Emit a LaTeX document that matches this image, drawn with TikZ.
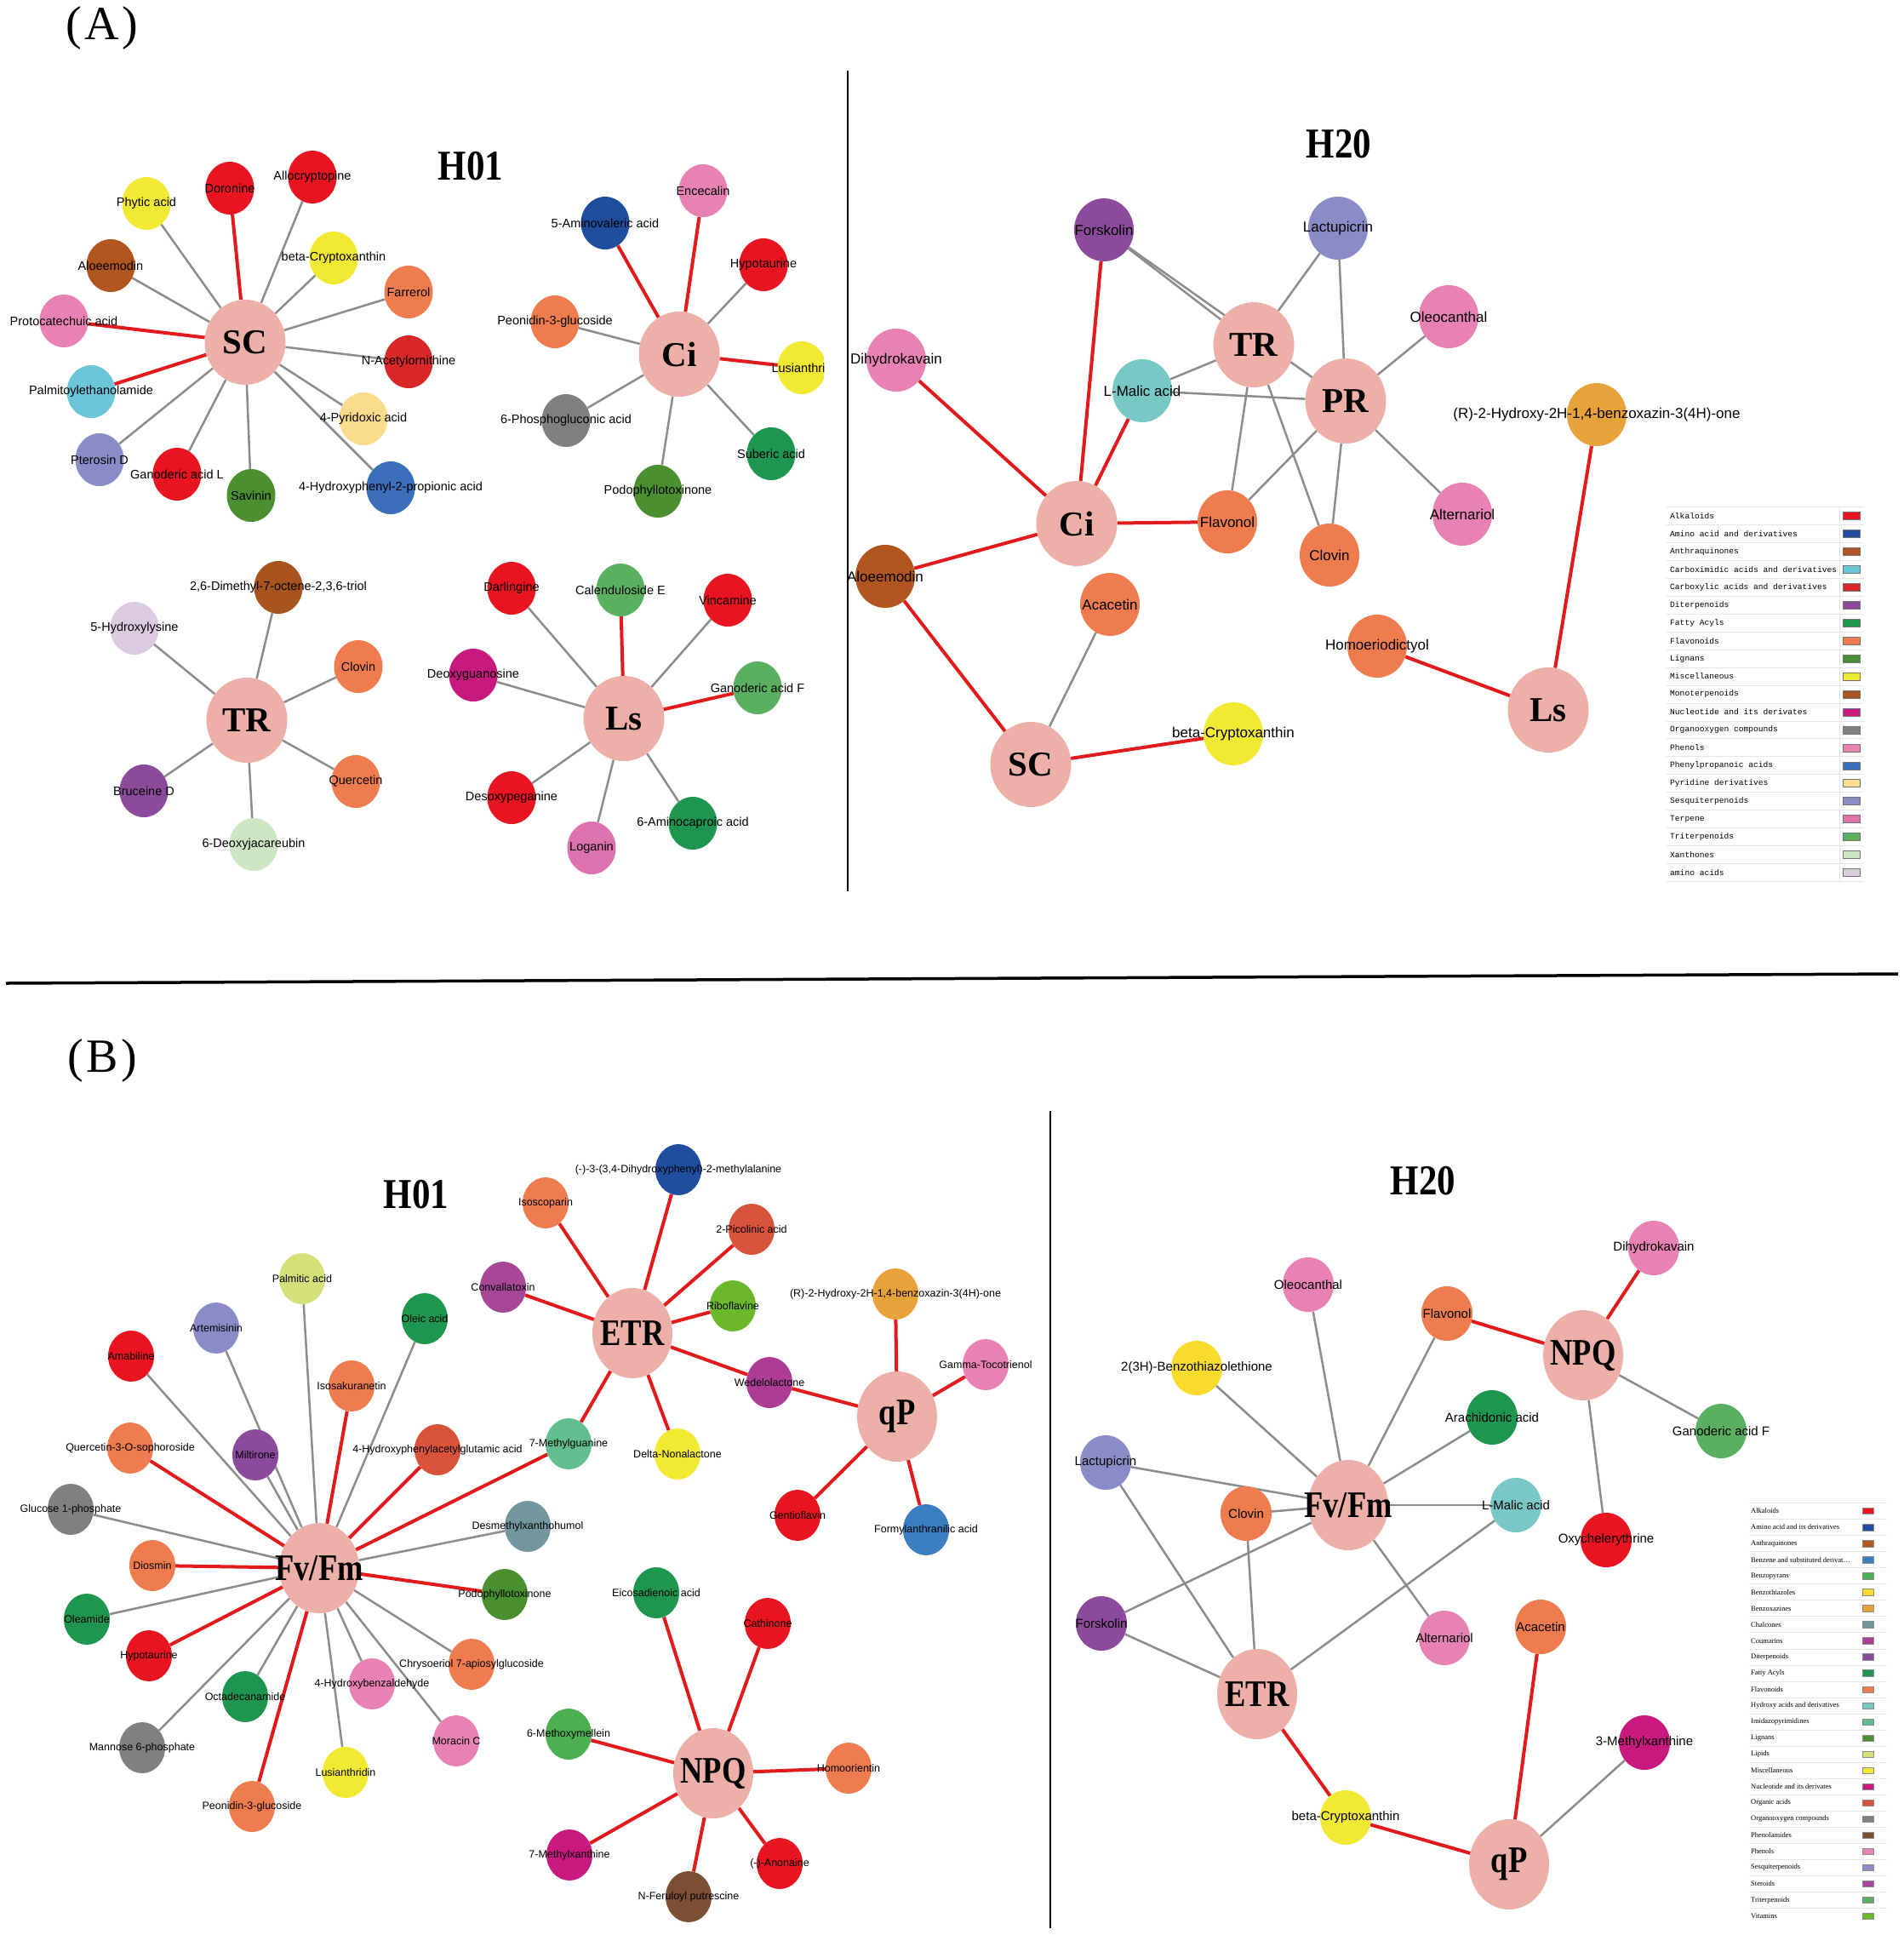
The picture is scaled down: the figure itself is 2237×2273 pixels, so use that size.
\documentclass[tikz,border=0pt]{standalone}
\usepackage{fontspec}
\usepackage{graphicx}
\setmainfont{Liberation Serif}
\newfontfamily\sansf{Liberation Sans}
\newfontfamily\monof{Liberation Mono}
\usetikzlibrary{shapes.geometric}
\pgfdeclarelayer{bg}
\pgfsetlayers{bg,main}
\definecolor{hubc}{HTML}{EDB0A8}
\definecolor{edgered}{HTML}{E31A1C}
\definecolor{edgegray}{HTML}{8C8C8C}
\definecolor{cAlk}{HTML}{E8141F}
\definecolor{cAmi}{HTML}{1F4E9E}
\definecolor{cAnt}{HTML}{B0561E}
\definecolor{cCim}{HTML}{6CC6DA}
\definecolor{cCar}{HTML}{D8282A}
\definecolor{cDit}{HTML}{8B4A9C}
\definecolor{cFat}{HTML}{1E9650}
\definecolor{cFla}{HTML}{EE7C4E}
\definecolor{cLig}{HTML}{4A9030}
\definecolor{cMis}{HTML}{F2EA32}
\definecolor{cMon}{HTML}{A8541F}
\definecolor{cNuc}{HTML}{C81A7E}
\definecolor{cOrg}{HTML}{808080}
\definecolor{cPhe}{HTML}{E882B4}
\definecolor{cPpa}{HTML}{3C6FBA}
\definecolor{cPyr}{HTML}{FBDB8C}
\definecolor{cSes}{HTML}{8A8CC8}
\definecolor{cTer}{HTML}{DC72AE}
\definecolor{cTri}{HTML}{5BAF60}
\definecolor{cXan}{HTML}{CDE6C3}
\definecolor{cAma}{HTML}{DCCAE0}
\definecolor{cBen}{HTML}{3A7EC0}
\definecolor{cBpy}{HTML}{4CAF50}
\definecolor{cBth}{HTML}{F9DC2B}
\definecolor{cBox}{HTML}{E8A23A}
\definecolor{cCha}{HTML}{72979E}
\definecolor{cCou}{HTML}{AC3C96}
\definecolor{cHyd}{HTML}{78C8C6}
\definecolor{cImi}{HTML}{62BE8C}
\definecolor{cLip}{HTML}{D4E07A}
\definecolor{cOac}{HTML}{D8533A}
\definecolor{cPhl}{HTML}{7C4F35}
\definecolor{cSte}{HTML}{A64797}
\definecolor{cVit}{HTML}{6CB82C}
\tikzset{
  nd/.style={ellipse, inner sep=0pt, draw=none, text=black},
  smA/.style={nd, minimum width=57pt, minimum height=62pt, font=\sansf\fontsize{14.5}{16}\selectfont},
  smHA/.style={nd, minimum width=70pt, minimum height=74pt, font=\sansf\fontsize{17}{19}\selectfont},
  smB/.style={nd, minimum width=54pt, minimum height=60pt, font=\sansf\fontsize{12.5}{14}\selectfont},
  smHB/.style={nd, minimum width=60pt, minimum height=64pt, font=\sansf\fontsize{15}{17}\selectfont},
  hubA/.style={nd, minimum width=95pt, minimum height=100pt, font=\bfseries\fontsize{41}{44}\selectfont},
  hubB/.style={nd, minimum width=94pt, minimum height=106pt, font=\bfseries\fontsize{44}{46}\selectfont},
  ttl/.style={font=\bfseries\fontsize{50}{52}\selectfont, inner sep=0pt},
  pnl/.style={font=\fontsize{56}{58}\selectfont, inner sep=0pt},
  ge/.style={draw=edgegray, line width=2.5pt},
  re/.style={draw=edgered, line width=4pt},
  legA/.style={anchor=west, inner sep=0pt, font=\monof\fontsize{9.6}{10}\selectfont},
  legB/.style={anchor=west, inner sep=0pt, font=\fontsize{8.5}{9}\selectfont},
}
\newcommand{\N}[5]{\node[#1,fill=#2] (#3) at (#4) {\makebox[0pt]{#5}};}
\newcommand{\hs}[1]{\scalebox{0.83}[1]{#1}}
\begin{document}
\begin{tikzpicture}[x=1pt,y=-1pt]
\useasboundingbox (0,0) rectangle (2237,2273);
% panel labels and dividers
\node[pnl] (pA) at (120,33) {(\hspace{3.5pt}A\hspace{3.5pt})};
\node[pnl] (pB) at (120,1246) {(\hspace{3.5pt}B\hspace{3.5pt})};
\coordinate (dA1) at (996,83); \coordinate (dA2) at (996,1047);
\coordinate (dH1) at (7,1155); \coordinate (dH2) at (2230,1144);
\coordinate (dB1) at (1234,1305); \coordinate (dB2) at (1234,2265);
\draw[line width=1.8pt] (dA1) -- (dA2);
\draw[line width=3.5pt] (dH1) -- (dH2);
\draw[line width=1.8pt] (dB1) -- (dB2);
% titles
\node[ttl] (tA1) at (553,195) {\scalebox{0.86}[1]{H01}};
\node[ttl] (tA2) at (1573,169) {\scalebox{0.86}[1]{H20}};
\node[ttl] (tB1) at (489,1403) {\scalebox{0.86}[1]{H01}};
\node[ttl] (tB2) at (1672,1387) {\scalebox{0.86}[1]{H20}};

% ===== A H01 : SC =====
\N{hubA}{hubc}{aSC}{288,402}{SC}
\N{smA}{cMis}{aPhy}{172,239}{Phytic acid}
\N{smA}{cAlk}{aDor}{270,221}{Doronine}
\N{smA}{cAlk}{aAll}{367,208}{Allocryptopine}
\N{smA}{cMis}{aBcr}{392,303}{beta-Cryptoxanthin}
\N{smA}{cAnt}{aAlo}{130,312}{Aloeemodin}
\N{smA}{cFla}{aFar}{480,343}{Farrerol}
\N{smA}{cPhe}{aPro}{75,377}{Protocatechuic acid}
\N{smA}{cCar}{aNac}{480,425}{N-Acetylornithine}
\N{smA}{cCim}{aPal}{107,460}{Palmitoylethanolamide}
\N{smA}{cPyr}{aPyr}{427,492}{4-Pyridoxic acid}
\N{smA}{cSes}{aPte}{117,540}{Pterosin D}
\N{smA}{cAlk}{aGaL}{208,557}{Ganoderic acid L}
\N{smA}{cLig}{aSav}{295,582}{Savinin}
\N{smA}{cPpa}{aHpp}{459,573}{4-Hydroxyphenyl-2-propionic acid}
% ===== A H01 : Ci =====
\N{hubA}{hubc}{aCi}{798,416}{Ci}
\N{smA}{cAmi}{aAmv}{711,262}{5-Aminovaleric acid}
\N{smA}{cPhe}{aEnc}{826,224}{Encecalin}
\N{smA}{cAlk}{aHyp}{897,311}{Hypotaurine}
\N{smA}{cFla}{aPeo}{652,378}{Peonidin-3-glucoside}
\begin{scope}
\clip (880,380) rectangle (968,490);
\N{smA}{cMis}{aLus}{942,432}{Lusianthrin}
\end{scope}
\N{smA}{cFat}{aSub}{906,533}{Suberic acid}
\N{smA}{cOrg}{aPgl}{665,494}{6-Phosphogluconic acid}
\N{smA}{cLig}{aPod}{773,577}{Podophyllotoxinone}
% ===== A H01 : TR =====
\N{hubA}{hubc}{aTR}{290,846}{TR}
\N{smA}{cMon}{aDmo}{327,690}{2,6-Dimethyl-7-octene-2,3,6-triol}
\N{smA}{cAma}{aHly}{158,738}{5-Hydroxylysine}
\N{smA}{cFla}{aClo}{421,783}{Clovin}
\N{smA}{cDit}{aBru}{169,929}{Bruceine D}
\N{smA}{cFla}{aQue}{418,918}{Quercetin}
\N{smA}{cXan}{aDjc}{298,992}{6-Deoxyjacareubin}
% ===== A H01 : Ls =====
\N{hubA}{hubc}{aLs}{733,844}{Ls}
\N{smA}{cAlk}{aDar}{601,691}{Darlingine}
\N{smA}{cTri}{aCal}{729,693}{Calenduloside E}
\N{smA}{cAlk}{aVin}{855,705}{Vincamine}
\N{smA}{cNuc}{aDgu}{556,793}{Deoxyguanosine}
\N{smA}{cTri}{aGaF}{890,808}{Ganoderic acid F}
\N{smA}{cAlk}{aDes}{601,937}{Desoxypeganine}
\N{smA}{cFat}{aAca}{814,967}{6-Aminocaproic acid}
\N{smA}{cTer}{aLog}{695,996}{Loganin}

% ===== A H20 =====
\N{smHA}{cDit}{hFor}{1297,270}{Forskolin}
\N{smHA}{cSes}{hLac}{1572,268}{Lactupicrin}
\N{smHA}{cPhe}{hOle}{1702,372}{Oleocanthal}
\N{hubA}{hubc}{hTR}{1473,405}{TR}
\N{smHA}{cPhe}{hDih}{1053,423}{Dihydrokavain}
\N{smHA}{cHyd}{hMal}{1342,459}{L-Malic acid}
\N{hubA}{hubc}{hPR}{1581,471}{PR}
\N{smHA}{cBox}{hRhy}{1876,487}{(R)-2-Hydroxy-2H-1,4-benzoxazin-3(4H)-one}
\N{hubA}{hubc}{hCi}{1265,615}{Ci}
\N{smHA}{cFla}{hFlv}{1442,613}{Flavonol}
\N{smHA}{cPhe}{hAlt}{1718,604}{Alternariol}
\N{smHA}{cFla}{hClo}{1562,652}{Clovin}
\N{smHA}{cAnt}{hAlo}{1040,677}{Aloeemodin}
\N{smHA}{cFla}{hAca}{1304,710}{Acacetin}
\N{smHA}{cFla}{hHom}{1618,759}{Homoeriodictyol}
\N{hubA}{hubc}{hSC}{1211,898}{SC}
\N{smHA}{cMis}{hBcr}{1449,862}{beta-Cryptoxanthin}
\N{hubA}{hubc}{hLs}{1819,834}{Ls}

% ===== B H01 =====
\N{hubB}{hubc}{bFv}{375,1842}{\hs{Fv/Fm}}
\N{hubB}{hubc}{bETR}{743,1566}{\hs{ETR}}
\N{hubB}{hubc}{bqP}{1054,1664}{\hs{qP}}
\N{hubB}{hubc}{bNPQ}{838,2083}{\hs{NPQ}}
\N{smB}{cFla}{bIsc}{641,1413}{Isoscoparin}
\N{smB}{cAmi}{bDhp}{797,1374}{(-)-3-(3,4-Dihydroxyphenyl)-2-methylalanine}
\N{smB}{cOac}{bPic}{883,1444}{2-Picolinic acid}
\N{smB}{cSte}{bCon}{591,1512}{Convallatoxin}
\N{smB}{cVit}{bRib}{861,1534}{Riboflavine}
\N{smB}{cBox}{bRhy}{1052,1520}{(R)-2-Hydroxy-2H-1,4-benzoxazin-3(4H)-one}
\N{smB}{cPhe}{bGam}{1158,1603}{Gamma-Tocotrienol}
\N{smB}{cCou}{bWed}{904,1624}{Wedelolactone}
\N{smB}{cImi}{bMgu}{668,1696}{7-Methylguanine}
\N{smB}{cMis}{bDel}{796,1708}{Delta-Nonalactone}
\N{smB}{cAlk}{bGen}{937,1780}{Gentioflavin}
\N{smB}{cBen}{bFor}{1088,1797}{Formylanthranilic acid}
\N{smB}{cLip}{bPal}{355,1502}{Palmitic acid}
\N{smB}{cSes}{bArt}{254,1560}{Artemisinin}
\N{smB}{cFat}{bOle}{499,1549}{Oleic acid}
\N{smB}{cAlk}{bAma}{154,1593}{Amabiline}
\N{smB}{cFla}{bIss}{413,1628}{Isosakuranetin}
\N{smB}{cFla}{bQso}{153,1701}{Quercetin-3-O-sophoroside}
\N{smB}{cDit}{bMil}{300,1709}{Miltirone}
\N{smB}{cOac}{bHpg}{514,1703}{4-Hydroxyphenylacetylglutamic acid}
\N{smB}{cOrg}{bGlu}{83,1773}{Glucose 1-phosphate}
\N{smB}{cCha}{bDxa}{620,1793}{Desmethylxanthohumol}
\N{smB}{cFla}{bDio}{179,1839}{Diosmin}
\N{smB}{cLig}{bPod}{593,1873}{Podophyllotoxinone}
\N{smB}{cFat}{bOlm}{102,1902}{Oleamide}
\N{smB}{cAlk}{bHyp}{175,1945}{Hypotaurine}
\N{smB}{cFat}{bOct}{288,1993}{Octadecanamide}
\N{smB}{cPhe}{bHba}{437,1978}{4-Hydroxybenzaldehyde}
\N{smB}{cFla}{bChr}{554,1955}{Chrysoeriol 7-apiosylglucoside}
\N{smB}{cOrg}{bMan}{167,2053}{Mannose 6-phosphate}
\N{smB}{cPhe}{bMor}{536,2045}{Moracin C}
\N{smB}{cMis}{bLus}{406,2082}{Lusianthridin}
\N{smB}{cFla}{bPeo}{296,2122}{Peonidin-3-glucoside}
\N{smB}{cFat}{bEic}{771,1871}{Eicosadienoic acid}
\N{smB}{cAlk}{bCat}{902,1907}{Cathinone}
\N{smB}{cBpy}{bMme}{668,2037}{6-Methoxymellein}
\N{smB}{cFla}{bHom}{997,2077}{Homoorientin}
\N{smB}{cNuc}{bMxa}{669,2179}{7-Methylxanthine}
\N{smB}{cAlk}{bAno}{916,2189}{(-)-Anonaine}
\N{smB}{cPhl}{bFer}{809,2228}{N-Feruloyl putrescine}

% ===== B H20 =====
\N{hubB}{hubc}{cFv}{1584,1768}{\hs{Fv/Fm}}
\N{hubB}{hubc}{cNPQ}{1860,1592}{\hs{NPQ}}
\N{hubB}{hubc}{cETR}{1477,1990}{\hs{ETR}}
\N{hubB}{hubc}{cqP}{1773,2190}{\hs{qP}}
\N{smHB}{cPhe}{cDih}{1943,1466}{Dihydrokavain}
\N{smHB}{cPhe}{cOle}{1537,1509}{Oleocanthal}
\N{smHB}{cFla}{cFlv}{1700,1543}{Flavonol}
\N{smHB}{cBth}{cBzt}{1406,1607}{2(3H)-Benzothiazolethione}
\N{smHB}{cFat}{cAra}{1753,1665}{Arachidonic acid}
\N{smHB}{cTri}{cGaF}{2022,1681}{Ganoderic acid F}
\N{smHB}{cSes}{cLac}{1299,1718}{Lactupicrin}
\N{smHB}{cFla}{cClo}{1464,1778}{Clovin}
\N{smHB}{cHyd}{cMal}{1781,1768}{L-Malic acid}
\N{smHB}{cAlk}{cOxy}{1887,1809}{Oxychelerythrine}
\N{smHB}{cDit}{cFor}{1294,1907}{Forskolin}
\N{smHB}{cPhe}{cAlt}{1697,1924}{Alternariol}
\N{smHB}{cFla}{cAca}{1810,1911}{Acacetin}
\N{smHB}{cNuc}{cMxa}{1932,2047}{3-Methylxanthine}
\N{smHB}{cMis}{cBcr}{1581,2135}{beta-Cryptoxanthin}

% ===== legends =====
\foreach \t/\c [count=\i from 0] in {Alkaloids/cAlk, Amino acid and derivatives/cAmi, Anthraquinones/cAnt, Carboximidic acids and derivatives/cCim, Carboxylic acids and derivatives/cCar, Diterpenoids/cDit, Fatty Acyls/cFat, Flavonoids/cFla, Lignans/cLig, Miscellaneous/cMis, Monoterpenoids/cMon, Nucleotide and its derivates/cNuc, Organooxygen compounds/cOrg, Phenols/cPhe, Phenylpropanoic acids/cPpa, Pyridine derivatives/cPyr, Sesquiterpenoids/cSes, Terpene/cTer, Triterpenoids/cTri, Xanthones/cXan, amino acids/cAma}{
  \pgfmathsetmacro\yy{606+20.95*\i}
  \node[legA] (la\i) at (1962,\yy) {\t};
  \draw[fill=\c, draw=black!55, line width=0.6pt] (2165,\yy-4.5) rectangle (2185,\yy+4.5);
  \draw[black!10, line width=0.8pt] (1958,\yy-10.5) -- (2190,\yy-10.5);
}
\draw[black!10, line width=0.8pt] (1958,1035.5) -- (2190,1035.5);
\draw[black!10, line width=0.8pt] (2161,595) -- (2161,1036);
\foreach \t/\c [count=\i from 0] in {Alkaloids/cAlk, Amino acid and its derivatives/cAmi, Anthraquinones/cAnt, {Benzene and substituted derivat\ldots}/cBen, Benzopyrans/cBpy, Benzothiazoles/cBth, Benzoxazines/cBox, Chalcones/cCha, Coumarins/cCou, Diterpenoids/cDit, Fatty Acyls/cFat, Flavonoids/cFla, Hydroxy acids and derivatives/cHyd, Imidazopyrimidines/cImi, Lignans/cLig, Lipids/cLip, Miscellaneous/cMis, Nucleotide and its derivates/cNuc, Organic acids/cOac, Organooxygen compounds/cOrg, Phenolamides/cPhl, Phenols/cPhe, Sesquiterpenoids/cSes, Steroids/cSte, Triterpenoids/cTri, Vitamins/cVit}{
  \pgfmathsetmacro\yy{1775+19.04*\i}
  \node[legB] (lb\i) at (2057,\yy) {\t};
  \draw[fill=\c, draw=black!45, line width=0.5pt] (2188,\yy-3.7) rectangle (2201,\yy+3.7);
  \draw[black!10, line width=0.7pt] (2055,\yy-9.5) -- (2217,\yy-9.5);
}

% ===== edges =====
\begin{pgfonlayer}{bg}
\fill[white] (0,0) rectangle (2237,2273);
% A H01 SC
\foreach \n in {aPhy,aAll,aBcr,aAlo,aFar,aNac,aPyr,aPte,aGaL,aSav,aHpp} \draw[ge] (aSC) -- (\n);
\foreach \n in {aDor,aPro,aPal} \draw[re] (aSC) -- (\n);
% A H01 Ci
\foreach \n in {aHyp,aPeo,aSub,aPgl,aPod} \draw[ge] (aCi) -- (\n);
\foreach \n in {aAmv,aEnc} \draw[re] (aCi) -- (\n);
\draw[re] (aCi) -- (aLus.center);
% A H01 TR
\foreach \n in {aDmo,aHly,aClo,aBru,aQue,aDjc} \draw[ge] (aTR) -- (\n);
% A H01 Ls
\foreach \n in {aDar,aVin,aDgu,aDes,aAca,aLog} \draw[ge] (aLs) -- (\n);
\foreach \n in {aCal,aGaF} \draw[re] (aLs) -- (\n);
% A H20
\draw[ge] (hFor) -- (hTR);
\draw[ge] (hFor.center) -- (hPR.center);
\draw[ge] (hLac) -- (hTR);
\draw[ge] (hLac) -- (hPR);
\draw[ge] (hOle) -- (hPR);
\draw[ge] (hMal) -- (hTR);
\draw[ge] (hMal) -- (hPR);
\draw[ge] (hTR) -- (hFlv);
\draw[ge] (hTR) -- (hClo);
\draw[ge] (hPR) -- (hFlv);
\draw[ge] (hPR) -- (hClo);
\draw[ge] (hPR) -- (hAlt);
\draw[ge] (hSC) -- (hAca);
\foreach \n in {hFor,hMal,hDih,hFlv,hAlo} \draw[re] (hCi) -- (\n);
\draw[re] (hAlo) -- (hSC);
\draw[re] (hSC) -- (hBcr);
\draw[re] (hHom) -- (hLs);
\draw[re] (hRhy) -- (hLs);
% B H01
\foreach \n in {bIsc,bDhp,bPic,bCon,bRib,bWed,bMgu,bDel} \draw[re] (bETR) -- (\n);
\foreach \n in {bRhy,bGam,bWed,bGen,bFor} \draw[re] (bqP) -- (\n);
\foreach \n in {bIss,bQso,bHpg,bMgu,bDio,bPod,bHyp,bPeo} \draw[re] (bFv) -- (\n);
\foreach \n in {bPal,bArt,bOle,bAma,bMil,bGlu,bDxa,bOlm,bOct,bHba,bChr,bMan,bMor,bLus} \draw[ge] (bFv) -- (\n);
\foreach \n in {bEic,bCat,bMme,bHom,bMxa,bAno,bFer} \draw[re] (bNPQ) -- (\n);
% B H20
\foreach \n in {cOle,cBzt,cFlv,cAra,cMal,cLac,cClo,cFor,cAlt} \draw[ge] (cFv) -- (\n);
\foreach \n in {cLac,cClo,cFor,cMal} \draw[ge] (cETR) -- (\n);
\draw[ge] (cNPQ) -- (cGaF);
\draw[ge] (cNPQ) -- (cOxy);
\draw[ge] (cqP) -- (cMxa);
\draw[re] (cFlv) -- (cNPQ);
\draw[re] (cDih) -- (cNPQ);
\draw[re] (cETR) -- (cBcr);
\draw[re] (cBcr) -- (cqP);
\draw[re] (cAca) -- (cqP);
\end{pgfonlayer}
\end{tikzpicture}
\end{document}
